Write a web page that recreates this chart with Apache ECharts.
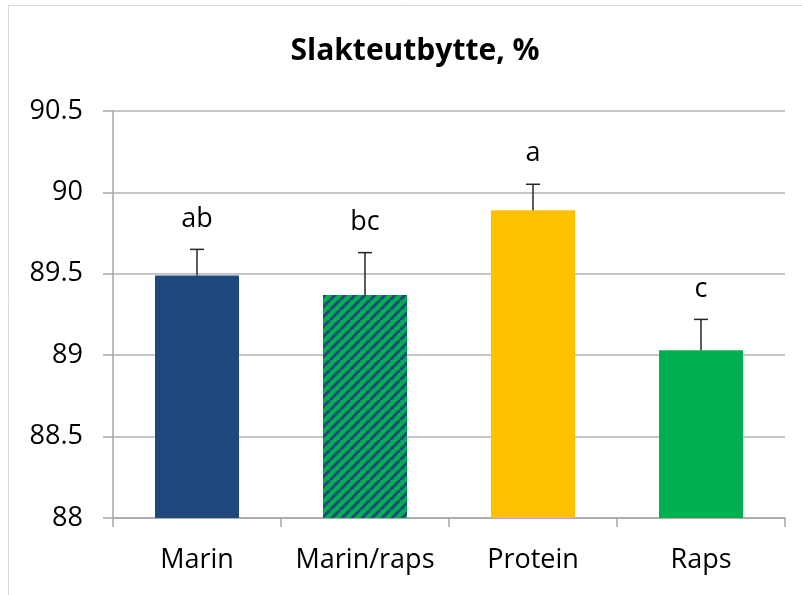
<!DOCTYPE html>
<html>
<head>
<meta charset="utf-8">
<script src="https://cdn.jsdelivr.net/npm/echarts@6/dist/echarts.min.js"></script>
<style>
  html, body { margin: 0; padding: 0; background: #fff; }
  #chart { width: 802px; height: 595px; }
</style>
</head>
<body>
<div id="chart"></div>
<script>
// Slaughter yield per feed group, mean with upper error and significance letters
const categories = ['Marin', 'Marin/raps', 'Protein', 'Raps'];
const means = [89.49, 89.37, 89.89, 89.03];
const upper = [89.65, 89.63, 90.05, 89.22];
const letters = ['ab', 'bc', 'a', 'c'];
const yTicks = [88, 88.5, 89, 89.5, 90, 90.5];

const NAVY = '#1F497D';
const GREEN = '#00B050';
const GOLD = '#FFC000';

// Diagonal green/navy stripe tile for the mixed feed group
function stripeTile() {
  const size = 10;
  const c = document.createElement('canvas');
  c.width = size; c.height = size;
  const g = c.getContext('2d');
  g.fillStyle = GREEN;
  g.fillRect(0, 0, size, size);
  g.strokeStyle = NAVY;
  g.lineWidth = 3;
  for (const k of [-size, 0, size]) {
    g.beginPath();
    g.moveTo(k, size);
    g.lineTo(k + size, 0);
    g.stroke();
  }
  return c;
}

const barColors = [NAVY, { image: stripeTile(), repeat: 'repeat' }, GOLD, GREEN];
const FONT = '"Open Sans", Lato, sans-serif';

const chart = echarts.init(document.getElementById('chart'));
chart.setOption({
  animation: false,
  backgroundColor: '#fff',
  title: {
    text: 'Slakteutbytte, %',
    left: 410, top: 31, textAlign: 'center',
    textStyle: { fontFamily: FONT, fontSize: 30, fontWeight: 'bold', color: '#000' }
  },
  graphic: [{
    type: 'rect', shape: { x: 8.5, y: 5.5, width: 800, height: 600 },
    style: { fill: 'none', stroke: '#d9d9d9', lineWidth: 1 }, silent: true, z: -1
  }],
  grid: { left: 113, right: 17, top: 111, bottom: 77 },
  xAxis: {
    type: 'category',
    data: categories,
    axisLine: { lineStyle: { color: '#a6a6a6', width: 1.5 } },
    axisTick: { show: true, interval: 0, length: 9, alignWithLabel: false, lineStyle: { color: '#a6a6a6', width: 1.5 } },
    axisLabel: { interval: 0, fontFamily: FONT, fontSize: 27, color: '#000', margin: 29 }
  },
  yAxis: {
    type: 'value',
    min: yTicks[0], max: yTicks[yTicks.length - 1], interval: 0.5,
    axisLine: { show: true, lineStyle: { color: '#a6a6a6', width: 1.5 } },
    axisTick: { show: true, length: 10, lineStyle: { color: '#a6a6a6', width: 1.5 } },
    splitLine: { lineStyle: { color: '#b3b3b3', width: 1.5 } },
    axisLabel: { fontFamily: FONT, fontSize: 27, color: '#000', margin: 30 }
  },
  series: [
    {
      type: 'bar',
      barWidth: '50%',
      data: means.map((v, i) => ({ value: v, itemStyle: { color: barColors[i] } })),
      z: 2
    },
    {
      type: 'custom',
      z: 3,
      data: means.map((v, i) => [i, v, upper[i]]),
      renderItem: function (params, api) {
        const base = api.coord([api.value(0), api.value(1)]);
        const top = api.coord([api.value(0), api.value(2)]);
        const idx = params.dataIndex;
        const capHalf = 7;
        return {
          type: 'group',
          children: [
            { type: 'line', shape: { x1: base[0], y1: base[1], x2: top[0], y2: top[1] },
              style: { stroke: '#262626', lineWidth: 1.5 } },
            { type: 'line', shape: { x1: top[0] - capHalf, y1: top[1], x2: top[0] + capHalf, y2: top[1] },
              style: { stroke: '#262626', lineWidth: 1.5 } },
            { type: 'text',
              style: { text: letters[idx], x: top[0], y: top[1] - 17,
                       textAlign: 'center', textVerticalAlign: 'bottom',
                       font: '27px ' + FONT, fill: '#000' } }
          ]
        };
      }
    }
  ]
});
</script>
</body>
</html>
